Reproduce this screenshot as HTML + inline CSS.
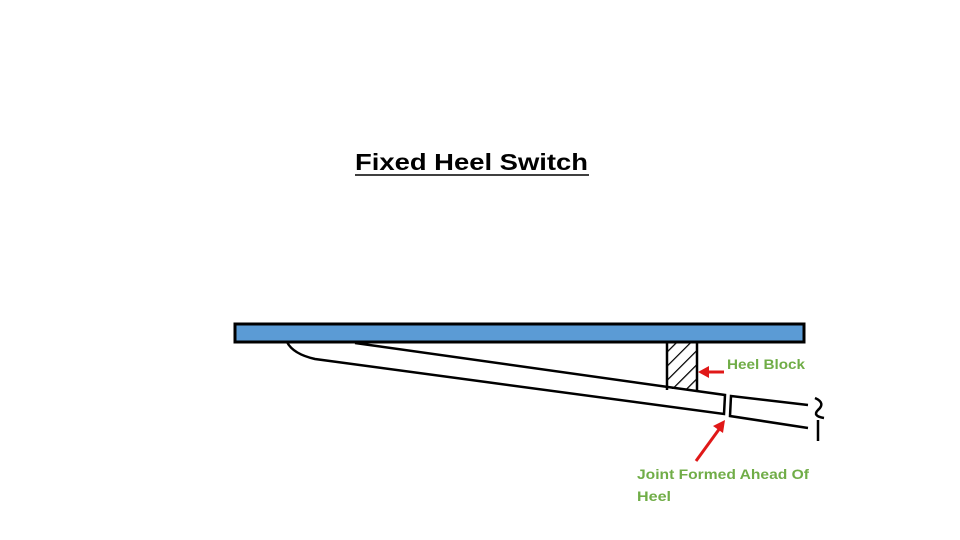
<!DOCTYPE html>
<html><head><meta charset="utf-8"><style>html,body{margin:0;padding:0;background:#fff;}svg{display:block}</style></head>
<body>
<svg width="960" height="540" viewBox="0 0 960 540" xmlns="http://www.w3.org/2000/svg">
<defs>
<pattern id="h" patternUnits="userSpaceOnUse" width="10" height="10" patternTransform="rotate(45)">
<line x1="0" y1="0" x2="0" y2="10" stroke="#000" stroke-width="2.5"/>
</pattern>
<clipPath id="c"><rect x="667" y="342" width="30" height="48"/></clipPath>
</defs>
<text x="355" y="170" font-family="Liberation Sans, sans-serif" font-size="23" font-weight="bold" textLength="233" lengthAdjust="spacingAndGlyphs" fill="#000">Fixed Heel Switch</text>
<line x1="355" y1="175" x2="589" y2="175" stroke="#000" stroke-width="1.5"/>
<rect x="235" y="324" width="569" height="18" fill="#5B9BD5" stroke="#000" stroke-width="3"/>
<rect x="667" y="342" width="30" height="47" fill="url(#h)" clip-path="url(#c)"/>
<line x1="667" y1="342" x2="667" y2="390" stroke="#000" stroke-width="2.5"/>
<line x1="697" y1="342" x2="697" y2="392" stroke="#000" stroke-width="2.5"/>
<g fill="none" stroke="#000" stroke-width="2.5">
<path d="M355 343 L725 395 L724 414 L315 359 Q293 354 287 342"/>
<path d="M808 405 L731 396 L730 416 L808 428"/>
<path d="M815 398 Q826 403 818 410 Q812 416 824 418"/>
<line x1="818" y1="420" x2="818" y2="441"/>
</g>
<g stroke="#E01818" stroke-width="3" fill="#E01818">
<line x1="724" y1="372" x2="706" y2="372"/>
<polygon points="698,372 709,366 709,378" stroke="none"/>
<line x1="696" y1="461" x2="720" y2="428"/>
<polygon points="725,420 723,433 713,426" stroke="none"/>
</g>
<g font-family="Liberation Sans, sans-serif" font-size="14" font-weight="bold" fill="#70AD47">
<text x="727" y="369" textLength="78" lengthAdjust="spacingAndGlyphs">Heel Block</text>
<text x="637" y="479" textLength="172" lengthAdjust="spacingAndGlyphs">Joint Formed Ahead Of</text>
<text x="637" y="501" textLength="34" lengthAdjust="spacingAndGlyphs">Heel</text>
</g>
</svg>
</body></html>
